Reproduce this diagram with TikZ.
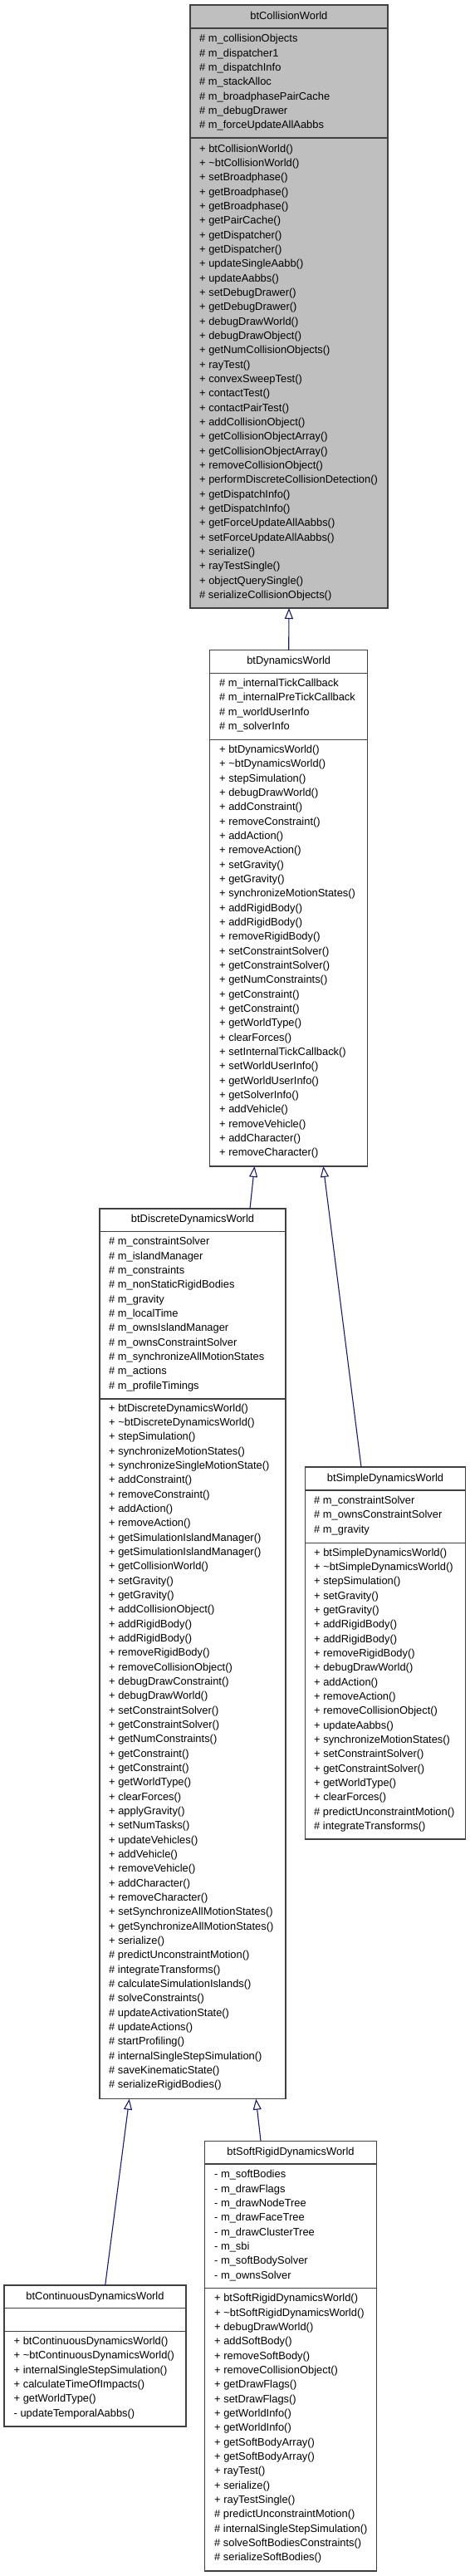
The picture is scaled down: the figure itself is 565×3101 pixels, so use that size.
\documentclass[tikz,border=0pt]{standalone}
\usepackage{fontspec}
\setmainfont{Liberation Sans}
\usetikzlibrary{arrows.meta}
\definecolor{edgeblue}{RGB}{25,25,112}
\definecolor{boxgray}{RGB}{191,191,191}
\definecolor{boxline}{RGB}{64,64,64}
\tikzset{
  classbox/.style={draw=boxline, line width=1.2pt, anchor=north west, inner sep=0pt, outer sep=0pt},
  sepline/.style={draw=boxline, line width=1.4pt},
  mem/.style={anchor=west, inner sep=0pt, text height=9.2pt, text depth=2.7pt, font=\fontsize{12.9}{15}\selectfont},
  ttl/.style={inner sep=0pt, text height=9.2pt, text depth=2.7pt, font=\fontsize{12.9}{15}\selectfont},
  inh/.style={draw=edgeblue, line width=1.1pt, -{Triangle[open, length=13pt, width=10pt, fill=white]}},
}
\newcommand\memlist[4]{\foreach \m [count=\i from 0] in {#4} {\node[mem] (#1\i) at (#2,{#3+\i*17.333}) {\m};}}
\newcommand\seprow[3]{\draw[sepline] (#1,#3) -- (#2,#3);}
\begin{document}
\begin{tikzpicture}[x=1pt,y=-1pt]
\useasboundingbox (0,0) rectangle (565,3101);
\fill[white] (0,0) rectangle (565,3101);

% btCollisionWorld
\node[classbox, fill=boxgray, minimum width=238pt, minimum height=726pt] (cw) at (229,6) {};
\node[ttl] (cwt) at (347.9,20) {btCollisionWorld};
\seprow{229}{467}{34}
\seprow{229}{467}{166}
\memlist{cwa}{240}{47.7}{\# m\_collisionObjects,\# m\_dispatcher1,\# m\_dispatchInfo,\# m\_stackAlloc,\# m\_broadphasePairCache,\# m\_debugDrawer,\# m\_forceUpdateAllAabbs}
\memlist{cwm}{240}{180}{+ btCollisionWorld(),+ \textasciitilde btCollisionWorld(),+ setBroadphase(),+ getBroadphase(),+ getBroadphase(),+ getPairCache(),+ getDispatcher(),+ getDispatcher(),+ updateSingleAabb(),+ updateAabbs(),+ setDebugDrawer(),+ getDebugDrawer(),+ debugDrawWorld(),+ debugDrawObject(),+ getNumCollisionObjects(),+ rayTest(),+ convexSweepTest(),+ contactTest(),+ contactPairTest(),+ addCollisionObject(),+ getCollisionObjectArray(),+ getCollisionObjectArray(),+ removeCollisionObject(),+ performDiscreteCollisionDetection(),+ getDispatchInfo(),+ getDispatchInfo(),+ getForceUpdateAllAabbs(),+ setForceUpdateAllAabbs(),+ serialize(),+ rayTestSingle(),+ objectQuerySingle(),\# serializeCollisionObjects()}

% btDynamicsWorld
\node[classbox, fill=white, minimum width=190pt, minimum height=621.3pt] (dw) at (252.7,782.7) {};
\node[ttl] (dwt) at (347.7,796.7) {btDynamicsWorld};
\seprow{252.7}{442.7}{810.7}
\seprow{252.7}{442.7}{890.7}
\memlist{dwa}{264}{823.3}{\# m\_internalTickCallback,\# m\_internalPreTickCallback,\# m\_worldUserInfo,\# m\_solverInfo}
\memlist{dwm}{264}{903.3}{+ btDynamicsWorld(),+ \textasciitilde btDynamicsWorld(),+ stepSimulation(),+ debugDrawWorld(),+ addConstraint(),+ removeConstraint(),+ addAction(),+ removeAction(),+ setGravity(),+ getGravity(),+ synchronizeMotionStates(),+ addRigidBody(),+ addRigidBody(),+ removeRigidBody(),+ setConstraintSolver(),+ getConstraintSolver(),+ getNumConstraints(),+ getConstraint(),+ getConstraint(),+ getWorldType(),+ clearForces(),+ setInternalTickCallback(),+ setWorldUserInfo(),+ getWorldUserInfo(),+ getSolverInfo(),+ addVehicle(),+ removeVehicle(),+ addCharacter(),+ removeCharacter()}

% btDiscreteDynamicsWorld
\node[classbox, fill=white, minimum width=224pt, minimum height=1071.7pt] (ddw) at (120,1455) {};
\node[ttl] (ddwt) at (232,1468.7) {btDiscreteDynamicsWorld};
\seprow{120}{344}{1482.3}
\seprow{120}{344}{1684}
\memlist{ddwa}{131}{1495.7}{\# m\_constraintSolver,\# m\_islandManager,\# m\_constraints,\# m\_nonStaticRigidBodies,\# m\_gravity,\# m\_localTime,\# m\_ownsIslandManager,\# m\_ownsConstraintSolver,\# m\_synchronizeAllMotionStates,\# m\_actions,\# m\_profileTimings}
\memlist{ddwm}{131}{1696}{+ btDiscreteDynamicsWorld(),+ \textasciitilde btDiscreteDynamicsWorld(),+ stepSimulation(),+ synchronizeMotionStates(),+ synchronizeSingleMotionState(),+ addConstraint(),+ removeConstraint(),+ addAction(),+ removeAction(),+ getSimulationIslandManager(),+ getSimulationIslandManager(),+ getCollisionWorld(),+ setGravity(),+ getGravity(),+ addCollisionObject(),+ addRigidBody(),+ addRigidBody(),+ removeRigidBody(),+ removeCollisionObject(),+ debugDrawConstraint(),+ debugDrawWorld(),+ setConstraintSolver(),+ getConstraintSolver(),+ getNumConstraints(),+ getConstraint(),+ getConstraint(),+ getWorldType(),+ clearForces(),+ applyGravity(),+ setNumTasks(),+ updateVehicles(),+ addVehicle(),+ removeVehicle(),+ addCharacter(),+ removeCharacter(),+ setSynchronizeAllMotionStates(),+ getSynchronizeAllMotionStates(),+ serialize(),\# predictUnconstraintMotion(),\# integrateTransforms(),\# calculateSimulationIslands(),\# solveConstraints(),\# updateActivationState(),\# updateActions(),\# startProfiling(),\# internalSingleStepSimulation(),\# saveKinematicState(),\# serializeRigidBodies()}

% btSimpleDynamicsWorld
\node[classbox, fill=white, minimum width=193.4pt, minimum height=448pt] (sdw) at (367.3,1766) {};
\node[ttl] (sdwt) at (464,1780) {btSimpleDynamicsWorld};
\seprow{367.3}{560.7}{1794}
\seprow{367.3}{560.7}{1857.7}
\memlist{sdwa}{378}{1807.3}{\# m\_constraintSolver,\# m\_ownsConstraintSolver,\# m\_gravity}
\memlist{sdwm}{378}{1870}{+ btSimpleDynamicsWorld(),+ \textasciitilde btSimpleDynamicsWorld(),+ stepSimulation(),+ setGravity(),+ getGravity(),+ addRigidBody(),+ addRigidBody(),+ removeRigidBody(),+ debugDrawWorld(),+ addAction(),+ removeAction(),+ removeCollisionObject(),+ updateAabbs(),+ synchronizeMotionStates(),+ setConstraintSolver(),+ getConstraintSolver(),+ getWorldType(),+ clearForces(),\# predictUnconstraintMotion(),\# integrateTransforms()}

% btSoftRigidDynamicsWorld
\node[classbox, fill=white, minimum width=206.6pt, minimum height=517.7pt] (srw) at (246.7,2577.3) {};
\node[ttl] (srwt) at (350,2591.2) {btSoftRigidDynamicsWorld};
\seprow{246.7}{453.3}{2605}
\seprow{246.7}{453.3}{2754.3}
\memlist{srwa}{258}{2618.7}{- m\_softBodies,- m\_drawFlags,- m\_drawNodeTree,- m\_drawFaceTree,- m\_drawClusterTree,- m\_sbi,- m\_softBodySolver,- m\_ownsSolver}
\memlist{srwm}{258}{2767.7}{+ btSoftRigidDynamicsWorld(),+ \textasciitilde btSoftRigidDynamicsWorld(),+ debugDrawWorld(),+ addSoftBody(),+ removeSoftBody(),+ removeCollisionObject(),+ getDrawFlags(),+ setDrawFlags(),+ getWorldInfo(),+ getWorldInfo(),+ getSoftBodyArray(),+ getSoftBodyArray(),+ rayTest(),+ serialize(),+ rayTestSingle(),\# predictUnconstraintMotion(),\# internalSingleStepSimulation(),\# solveSoftBodiesConstraints(),\# serializeSoftBodies()}

% btContinuousDynamicsWorld
\node[classbox, fill=white, minimum width=219pt, minimum height=170pt] (cdw) at (5,2751) {};
\node[ttl] (cdwt) at (114.5,2764.9) {btContinuousDynamicsWorld};
\seprow{5}{224}{2778.7}
\seprow{5}{224}{2806.6}
\memlist{cdwm}{16.5}{2819.3}{+ btContinuousDynamicsWorld(),+ \textasciitilde btContinuousDynamicsWorld(),+ internalSingleStepSimulation(),+ calculateTimeOfImpacts(),+ getWorldType(),- updateTemporalAabbs()}

% inheritance connectors
\draw[inh] (dw.north) -- (cw.south);
\draw[inh] ([xshift=181pt]ddw.north west) -- ([xshift=53.8pt]dw.south west);
\draw[inh] ([xshift=67.7pt]sdw.north west) -- ([xshift=136.6pt]dw.south west);
\draw[inh] ([xshift=121.7pt]cdw.north west) -- ([xshift=35.7pt]ddw.south west);
\draw[inh] ([xshift=67.3pt]srw.north west) -- ([xshift=188.3pt]ddw.south west);
\end{tikzpicture}
\end{document}
